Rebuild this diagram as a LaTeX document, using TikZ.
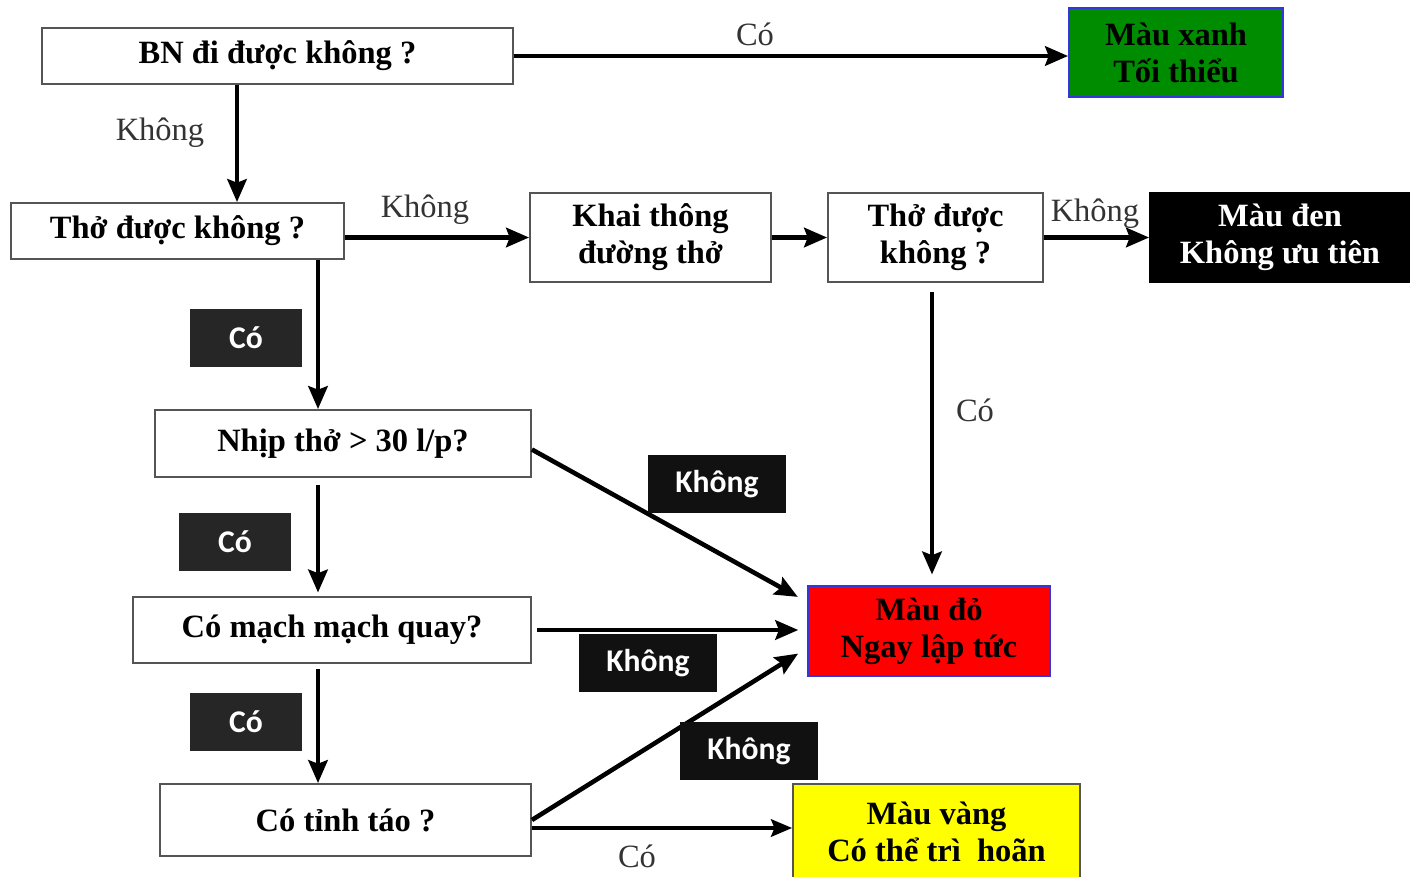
\documentclass[tikz,border=0pt]{standalone}
\usepackage{fontspec}
\setmainfont{Liberation Serif}
\newfontfamily\tagfont{Carlito}
\definecolor{frame}{HTML}{555555}
\definecolor{ink}{HTML}{333333}
\definecolor{tagbg}{HTML}{111111}
\definecolor{tagbgb}{HTML}{262626}
\definecolor{greenbox}{HTML}{008C00}
\definecolor{redbox}{HTML}{FF0000}
\definecolor{yellowbox}{HTML}{FFFF00}
\definecolor{blueedge}{HTML}{3535E0}
\usetikzlibrary{arrows.meta,positioning,calc}
\tikzset{
  q_box/.style={draw=frame,line width=1.1pt,fill=white,
    font=\fontsize{18.5}{21}\selectfont\bfseries,align=center,inner sep=0pt},
  end_box/.style={line width=1.1pt,font=\fontsize{18.5}{21}\selectfont\bfseries,
    align=center,inner sep=0pt,minimum height=1.78cm},
  edge_lbl/.style={font=\fontsize{18.5}{21}\selectfont,text=ink,inner sep=1pt},
  tag/.style={fill=tagbg,text=white,font=\tagfont\fontsize{18}{21}\selectfont\bfseries,
    minimum width=2.76cm,minimum height=1.16cm,inner sep=0pt},
  tag_yes/.style={tag,fill=tagbgb,minimum width=2.24cm},
  arr/.style={-{Stealth[length=13pt,width=11pt,inset=2pt]},draw=black,line width=2.6pt},
  arr_thin/.style={-{Stealth[length=12pt,width=10pt,inset=2pt]},draw=black,line width=1.9pt},
}
\begin{document}
\begin{tikzpicture}[x=0.02cm,y=-0.02cm]
    \useasboundingbox (0,0) rectangle (1410,876);
    % question boxes
    \node[q_box,minimum width=9.42cm,minimum height=1.12cm] (walk) at (277.5,56) {BN đi được không ?};
    \node[q_box,minimum width=6.66cm,minimum height=1.12cm] (breathe) at (177.5,231) {Thở được không ?};
    \node[q_box,minimum width=4.82cm,minimum height=1.78cm] (airway) at (650.5,237.5) {Khai thông\\đường thở};
    \node[q_box,minimum width=4.3cm,minimum height=1.78cm] (rebreathe) at (935.5,237.5) {Thở được\\không ?};
    \node[q_box,minimum width=7.52cm,minimum height=1.34cm] (rate) at (343,443.5) {Nhịp thở > 30 l/p?};
    \node[q_box,minimum width=7.96cm,minimum height=1.32cm] (pulse) at (332,630) {Có mạch mạch quay?};
    \node[q_box,minimum width=7.42cm,minimum height=1.44cm] (alert) at (345.5,820) {Có tỉnh táo ?};
    % result boxes
    \node[end_box,draw=blueedge,fill=greenbox,minimum width=4.28cm] (green) at (1176,52.5) {Màu xanh\\Tối thiểu};
    \node[end_box,draw=black,fill=black,text=white,minimum width=5.2cm] (black) at (1280,237.5) {Màu đen\\Không ưu tiên};
    \node[end_box,draw=blueedge,fill=redbox,minimum width=4.84cm,minimum height=1.8cm] (red) at (929,631) {Màu đỏ\\Ngay lập tức};
    \node[end_box,draw=frame,fill=yellowbox,minimum width=5.74cm,minimum height=1.92cm] (yellow) at (936.5,832) {Màu vàng\\Có thể trì\ \ hoãn};

    \draw[arr](walk.east)--(walk.east -| green.west);
    \draw[arr]([xshift=-0.81cm]walk.south)--([xshift=-0.81cm]walk.south |- breathe.north);
    \draw[arr](breathe.east |- airway.west)--(airway.west);
    \draw[arr](airway)--(rebreathe);\draw[arr](rebreathe.east |- black.west)--(black.west);
    \draw[arr,shorten <=5pt,shorten >=6pt]([xshift=-0.07cm]rebreathe.south)--([xshift=-0.07cm]rebreathe.south |- red.north);
    \draw[arr]([xshift=-0.5cm]rate.north |- breathe.south)--([xshift=-0.5cm]rate.north);
    \draw[arr,shorten <=4pt,shorten >=2pt]([xshift=-0.5cm]rate.south)--([xshift=-0.5cm]rate.south |- pulse.north);
    \draw[arr,shorten <=3pt]([xshift=-0.28cm]pulse.south)--([xshift=-0.28cm]pulse.south |- alert.north);
    \draw[arr,shorten >=6pt]([yshift=-0.12cm]rate.east)--([yshift=0.58cm]red.west);
    \draw[arr,shorten <=3pt,shorten >=5pt](pulse.east)--(pulse.east -| red.west);
    \draw[arr,shorten >=6pt](alert.east)--([yshift=-0.34cm]red.west);
    \draw[arr_thin]([yshift=-0.16cm]alert.east)--([yshift=-0.16cm]alert.east -| yellow.west);

    % labels on the connectors
    \node[edge_lbl] (l_walk_yes) at (755,34) {Có};
    \node[edge_lbl] (l_walk_no) at (160,133) {Không};
    \node[edge_lbl] (l_breathe_no) at (425,210) {Không};
    \node[edge_lbl] (l_rebreathe_no) at (1095,214) {Không};
    \node[edge_lbl] (l_rebreathe_yes) at (975,410) {Có};
    \node[edge_lbl] (l_alert_yes) at (637,856) {Có};
    \node[tag_yes] (t_breathe_yes) at (246,338) {Có};
    \node[tag_yes] (t_rate_yes) at (235,542) {Có};
    \node[tag_yes] (t_pulse_yes) at (246,722) {Có};
    \node[tag] (t_rate_no) at (717,484) {Không};
    \node[tag] (t_pulse_no) at (648,663) {Không};
    \node[tag] (t_alert_no) at (749,751) {Không};
  \end{tikzpicture}
\end{document}
